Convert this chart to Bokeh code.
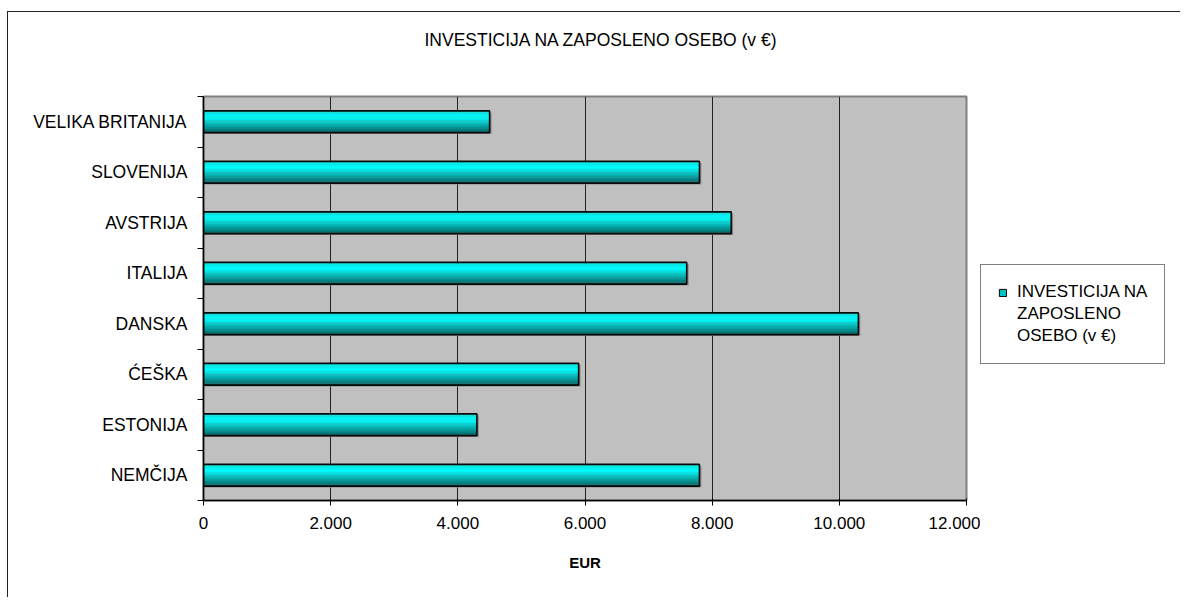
from bokeh.plotting import figure
from bokeh.layouts import row
from bokeh.models import (Range1d, FixedTicker, ColumnDataSource, Legend,
                          LegendItem, Title)
from bokeh.core.properties import value
from bokeh.embed import file_html
from bokeh.resources import INLINE

# ---------------- data ----------------
title_text = "INVESTICIJA NA ZAPOSLENO OSEBO (v €)"
categories = ["NEMČIJA", "ESTONIJA", "ĆEŠKA", "DANSKA",
              "ITALIJA", "AVSTRIJA", "SLOVENIJA", "VELIKA BRITANIJA"]
values = [7800, 4300, 5900, 10300, 7600, 8300, 7800, 4500]
x_ticks = [0, 2000, 4000, 6000, 8000, 10000, 12000]
x_tick_labels = ["0", "2.000", "4.000", "6.000", "8.000", "10.000", "12.000"]
x_axis_label = "EUR"
series_name_lines = ["INVESTICIJA NA", "ZAPOSLENO", "OSEBO (v €)"]

# ---------------- style ----------------
FONT = "Liberation Sans"
positions = list(range(1, len(categories) + 1))
boundaries = [i + 0.5 for i in range(0, len(categories) + 1)]
bar_h = 0.43

W1, W2, H = 972, 200, 585
p = figure(width=W1, height=H, output_backend="svg", toolbar_location=None,
           title=None,
           x_range=Range1d(x_ticks[0], x_ticks[-1]),
           y_range=Range1d(boundaries[0], boundaries[-1]),
           min_border_left=195, min_border_right=W1 - 958,
           min_border_top=84, min_border_bottom=H - 488)
p.background_fill_color = "#C0C0C0"
p.border_fill_color = "white"
p.outline_line_color = "#808080"
p.outline_line_width = 2

# title (spacer title keeps it away from the plot area)
p.add_layout(Title(text=" ", text_font_size="26px"), "above")
p.add_layout(Title(text=title_text, align="left", offset=221,
                   text_font=FONT, text_font_size="17.5px",
                   text_font_style="normal", text_color="black"), "above")

# shadow
shadow = ColumnDataSource(dict(y=[y - 0.03 for y in positions],
                               right=[v + 30 for v in values]))
p.hbar(y="y", left=0, right="right", height=bar_h, source=shadow,
       fill_color="#8a8a8a", line_color=None)

# gradient strips (top bright cyan -> bottom dark teal)
def grad(s):
    stops = [(0.0, (0, 224, 224)), (0.3, (0, 255, 255)), (1.0, (0, 96, 96))]
    for (s0, c0), (s1, c1) in zip(stops[:-1], stops[1:]):
        if s <= s1:
            t = (s - s0) / (s1 - s0)
            c = [round(a + (b - a) * t) for a, b in zip(c0, c1)]
            return "#%02x%02x%02x" % tuple(c)
    return "#%02x%02x%02x" % stops[-1][1]

N = 16
sh = bar_h / N
for k in range(N):
    s = (k + 0.5) / N
    src = ColumnDataSource(dict(y=[y + bar_h / 2 - (k + 0.5) * sh for y in positions],
                                right=values))
    p.hbar(y="y", left=0, right="right", height=sh * 1.15, source=src,
           fill_color=grad(s), line_color=None)

bars = ColumnDataSource(dict(y=positions, right=values, cat=categories))
p.hbar(y="y", left=0, right="right", height=bar_h, source=bars,
       fill_alpha=0, line_color="#0a0a0a", line_width=1.6)

# ---------------- axes ----------------
xa = p.xaxis[0]
xa.ticker = FixedTicker(ticks=x_ticks)
xa.major_label_overrides = dict(zip(x_ticks, x_tick_labels))
xa.minor_tick_line_color = None
xa.major_tick_in = 2
xa.major_tick_out = 5
xa.major_tick_line_color = "black"
xa.axis_line_color = "black"
xa.axis_line_width = 1.5
xa.major_label_text_font = FONT
xa.major_label_text_font_size = "17px"
xa.major_label_text_color = "black"
xa.major_label_standoff = 11
xa.axis_label = x_axis_label
xa.axis_label_text_font = FONT
xa.axis_label_text_font_style = "bold"
xa.axis_label_text_font_size = "15px"
xa.axis_label_text_color = "black"
xa.axis_label_standoff = 22

ya = p.yaxis[0]
ya.ticker = FixedTicker(ticks=positions, minor_ticks=boundaries)
ya.major_label_overrides = dict(zip(positions, categories))
ya.major_tick_in = 0
ya.major_tick_out = 0
ya.minor_tick_in = 0
ya.minor_tick_out = 6
ya.minor_tick_line_color = "black"
ya.axis_line_color = "black"
ya.axis_line_width = 1.5
ya.major_label_text_font = FONT
ya.major_label_text_font_size = "17.5px"
ya.major_label_text_color = "black"
ya.major_label_standoff = 10

p.ygrid.grid_line_color = None
p.xgrid.ticker = FixedTicker(ticks=x_ticks[1:-1])
p.xgrid.grid_line_color = "#222222"
p.xgrid.grid_line_width = 1

# ---------------- legend (separate panel to the right) ----------------
q = figure(width=W2, height=H, output_backend="svg", toolbar_location=None,
           title=None, x_axis_location=None, y_axis_location=None,
           x_range=Range1d(0, 1), y_range=Range1d(0, 1),
           min_border=0, outline_line_color=None)
q.grid.grid_line_color = None
q.background_fill_color = "white"
q.border_fill_color = "white"
leg_src = ColumnDataSource(dict(left=[5], right=[6], top=[6], bottom=[5]))
r_leg = q.quad(left="left", right="right", top="top", bottom="bottom",
               source=leg_src, fill_color="#00C4C4", line_color="black",
               line_width=1)
r_blank = q.quad(left="left", right="right", top="top", bottom="bottom",
                 source=leg_src, fill_alpha=0, line_alpha=0)
items = [LegendItem(label=value(series_name_lines[0]), renderers=[r_leg])]
items += [LegendItem(label=value(t), renderers=[r_blank]) for t in series_name_lines[1:]]
legend = Legend(items=items,
                location=(0, 136), margin=0, padding=17, spacing=2,
                glyph_width=9, glyph_height=9, label_standoff=10,
                label_text_font=FONT, label_text_font_size="17px",
                label_text_color="black",
                border_line_color="black", border_line_width=1,
                background_fill_color="white", background_fill_alpha=1)
q.add_layout(legend)

layout = row(p, q, spacing=0,
             styles={"border-top": "1px solid #222", "border-left": "1px solid #222",
                     "margin-top": "11px", "margin-left": "7px"})

open("out.html", "w").write(file_html(layout, INLINE))
